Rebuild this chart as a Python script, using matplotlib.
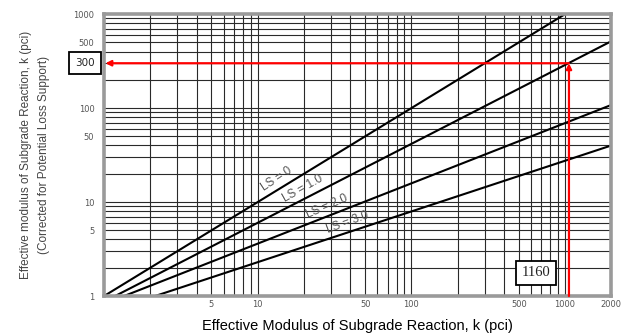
import matplotlib
matplotlib.use("Agg")
import matplotlib.pyplot as plt
import numpy as np

# lines of constant loss of support: start k (where k_eff = 1) and end point
LS_VALUES = [0, 1.0, 2.0, 3.0]
LS_START_K = [1.0, 1.18, 1.35, 2.15]
LS_END_K = [1000, 2000, 2000, 2000]
LS_END_KEFF = [1000, 515, 108, 40]
LS_TEXT = ["LS = 0", "LS = 1.0", "LS = 2.0", "LS = 3.0"]
LABEL_K = [14.5, 21.5, 30.5, 41.5]

X_TICKS = [5, 10, 50, 100, 500, 1000, 2000]
Y_TICKS = [1, 5, 10, 50, 100, 500, 1000]

EXAMPLE_K = 1060   # red vertical read-off
EXAMPLE_KEFF = 300
EXAMPLE_BOX_TEXT = "1160"

fig = plt.figure(figsize=(6.27, 3.36), dpi=100)
ax = fig.add_axes([0.166, 0.119, 0.809, 0.839])
ax.set_xscale('log')
ax.set_yscale('log')
ax.set_xlim(1, 2000)
ax.set_ylim(1, 1000)

ax.grid(which='both', color='#2a2a2a', lw=0.8)
ax.set_axisbelow(True)
for s in ax.spines.values():
    s.set_color('#9a9a9a')
    s.set_linewidth(2.6)

ax.set_xticks(X_TICKS)
ax.set_xticklabels([str(t) for t in X_TICKS])
ax.set_yticks(Y_TICKS)
ax.set_yticklabels([str(t) for t in Y_TICKS])
ax.tick_params(which='both', length=0)
ax.tick_params(axis='x', pad=3, labelsize=6, labelcolor='#555555')
ax.tick_params(axis='y', pad=7, labelsize=6, labelcolor='#555555')

for i in range(len(LS_VALUES)):
    ax.plot([LS_START_K[i], LS_END_K[i]], [1, LS_END_KEFF[i]], color='black', lw=1.5)
    # label sits on top of its line
    slope = np.log10(LS_END_KEFF[i]) / np.log10(LS_END_K[i] / LS_START_K[i])
    ky = 10 ** (slope * np.log10(LABEL_K[i] / LS_START_K[i]))
    ang = np.degrees(np.arctan(slope * 94 / 154))
    ax.annotate(LS_TEXT[i], (LABEL_K[i], ky), xytext=(-2, 2), textcoords='offset points',
                rotation=ang + 2, ha='center', va='bottom', fontsize=8.5, color='#555555',
                family=['Liberation Sans', 'DejaVu Sans'], rotation_mode='anchor')

# worked example: read up from k, then across to the corrected value
ax.annotate('', xy=(EXAMPLE_K, EXAMPLE_KEFF), xytext=(EXAMPLE_K, 1),
            arrowprops=dict(arrowstyle='-|>', color='red', lw=1.6, mutation_scale=8,
                            shrinkA=0, shrinkB=0))
ax.annotate('', xy=(1.02, EXAMPLE_KEFF), xytext=(EXAMPLE_K, EXAMPLE_KEFF),
            arrowprops=dict(arrowstyle='-|>', color='red', lw=1.6, mutation_scale=8,
                            shrinkA=0, shrinkB=0))

ax.text(-0.038, EXAMPLE_KEFF, str(EXAMPLE_KEFF), transform=ax.get_yaxis_transform(),
        ha='center', va='center', fontsize=7.5, color='#222222', clip_on=False,
        bbox=dict(boxstyle='square,pad=0.6', fc='white', ec='black', lw=1.3))
ax.text(648, 1.76, EXAMPLE_BOX_TEXT, ha='center', va='center', fontsize=10.5,
        family='Liberation Serif', color='#222222',
        bbox=dict(boxstyle='square,pad=0.4', fc='white', ec='black', lw=1.3))

ax.set_xlabel("Effective Modulus of Subgrade Reaction, k (pci)", fontsize=10.5,
              family=['Liberation Sans', 'DejaVu Sans'], labelpad=7)
ax.set_ylabel("Effective modulus of Subgrade Reaction, k (pci)\n"
              "(Corrected for Potential Loss Support)", fontsize=8.5,
              family=['Liberation Sans', 'DejaVu Sans'],
              color='#444444', linespacing=1.6, labelpad=17)

fig.savefig("out.png", dpi=100)
